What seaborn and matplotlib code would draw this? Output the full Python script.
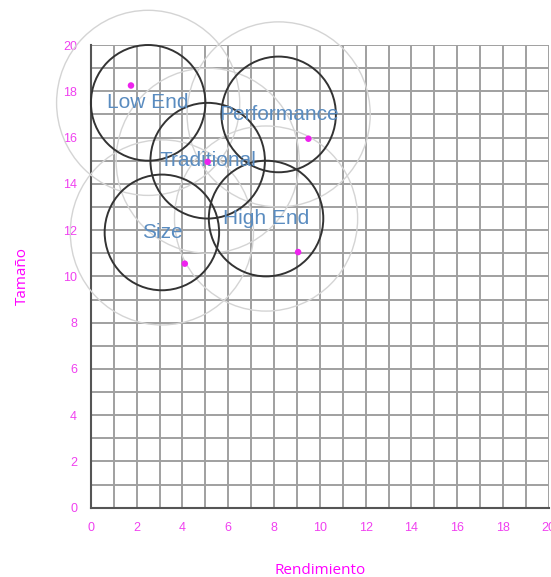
import matplotlib
matplotlib.use('Agg')
import matplotlib.pyplot as plt
from matplotlib.patches import Circle
from matplotlib.ticker import MultipleLocator
import pandas as pd
import seaborn as sns

# Segment circles (centres and labels)
segments = ['Low End', 'Performance', 'Traditional', 'Size', 'High End']
center_x = [2.5, 8.2, 5.1, 3.1, 7.65]
center_y = [17.5, 17.0, 15.0, 11.9, 12.5]

# Ideal points (magenta dots)
ideal_x = [1.75, 9.5, 5.1, 4.1, 9.05]
ideal_y = [18.25, 15.95, 14.95, 10.55, 11.05]

inner_radius = 2.5
outer_radius = 4.0

df = pd.DataFrame({'segment': segments, 'x': ideal_x, 'y': ideal_y})

sns.set_theme(style='white')
plt.rcParams['font.family'] = ['Liberation Sans', 'DejaVu Sans']

fig = plt.figure(figsize=(5.51, 5.77), dpi=100)
ax = fig.add_axes([0.165, 0.12, 0.831, 0.802])

ax.set_xlim(0, 20)
ax.set_ylim(0, 20)

# Grid every unit, labels every two
ax.xaxis.set_major_locator(MultipleLocator(2))
ax.yaxis.set_major_locator(MultipleLocator(2))
ax.xaxis.set_minor_locator(MultipleLocator(1))
ax.yaxis.set_minor_locator(MultipleLocator(1))
ax.grid(which='both', color='#a0a0a0', linewidth=1.4)
ax.set_axisbelow(True)
for s in ['top', 'right']:
    ax.spines[s].set_visible(False)
for s in ['left', 'bottom']:
    ax.spines[s].set_color('#555555')
    ax.spines[s].set_linewidth(1.5)
ax.tick_params(which='major', length=4, width=1.2, color='#444444',
               labelcolor='#f040f0', labelsize=9, pad=6)
ax.tick_params(which='minor', length=0)

# Circles
for cx, cy in zip(center_x, center_y):
    ax.add_patch(Circle((cx, cy), outer_radius, fill=False, edgecolor='#d4d4d4',
                        linewidth=1.0, clip_on=False, zorder=3))
for cx, cy in zip(center_x, center_y):
    ax.add_patch(Circle((cx, cy), inner_radius, fill=False, edgecolor='#333333',
                        linewidth=1.4, clip_on=False, zorder=4))

sns.scatterplot(data=df, x='x', y='y', ax=ax, color='#ee22ee', s=22,
                edgecolor='none', zorder=6, legend=False)

for name, cx, cy in zip(segments, center_x, center_y):
    ax.text(cx, cy, name, ha='center', va='center', fontsize=15,
            color='#5a8cc0', zorder=5)

ax.set_xlabel('Rendimiento', color='#ff00ff', fontsize=11,
              family=['Open Sans', 'DejaVu Sans'], labelpad=21)
ax.set_ylabel('Tamaño', color='#ff00ff', fontsize=11,
              family=['Open Sans', 'DejaVu Sans'], labelpad=24)

fig.savefig('out.png', dpi=100)
